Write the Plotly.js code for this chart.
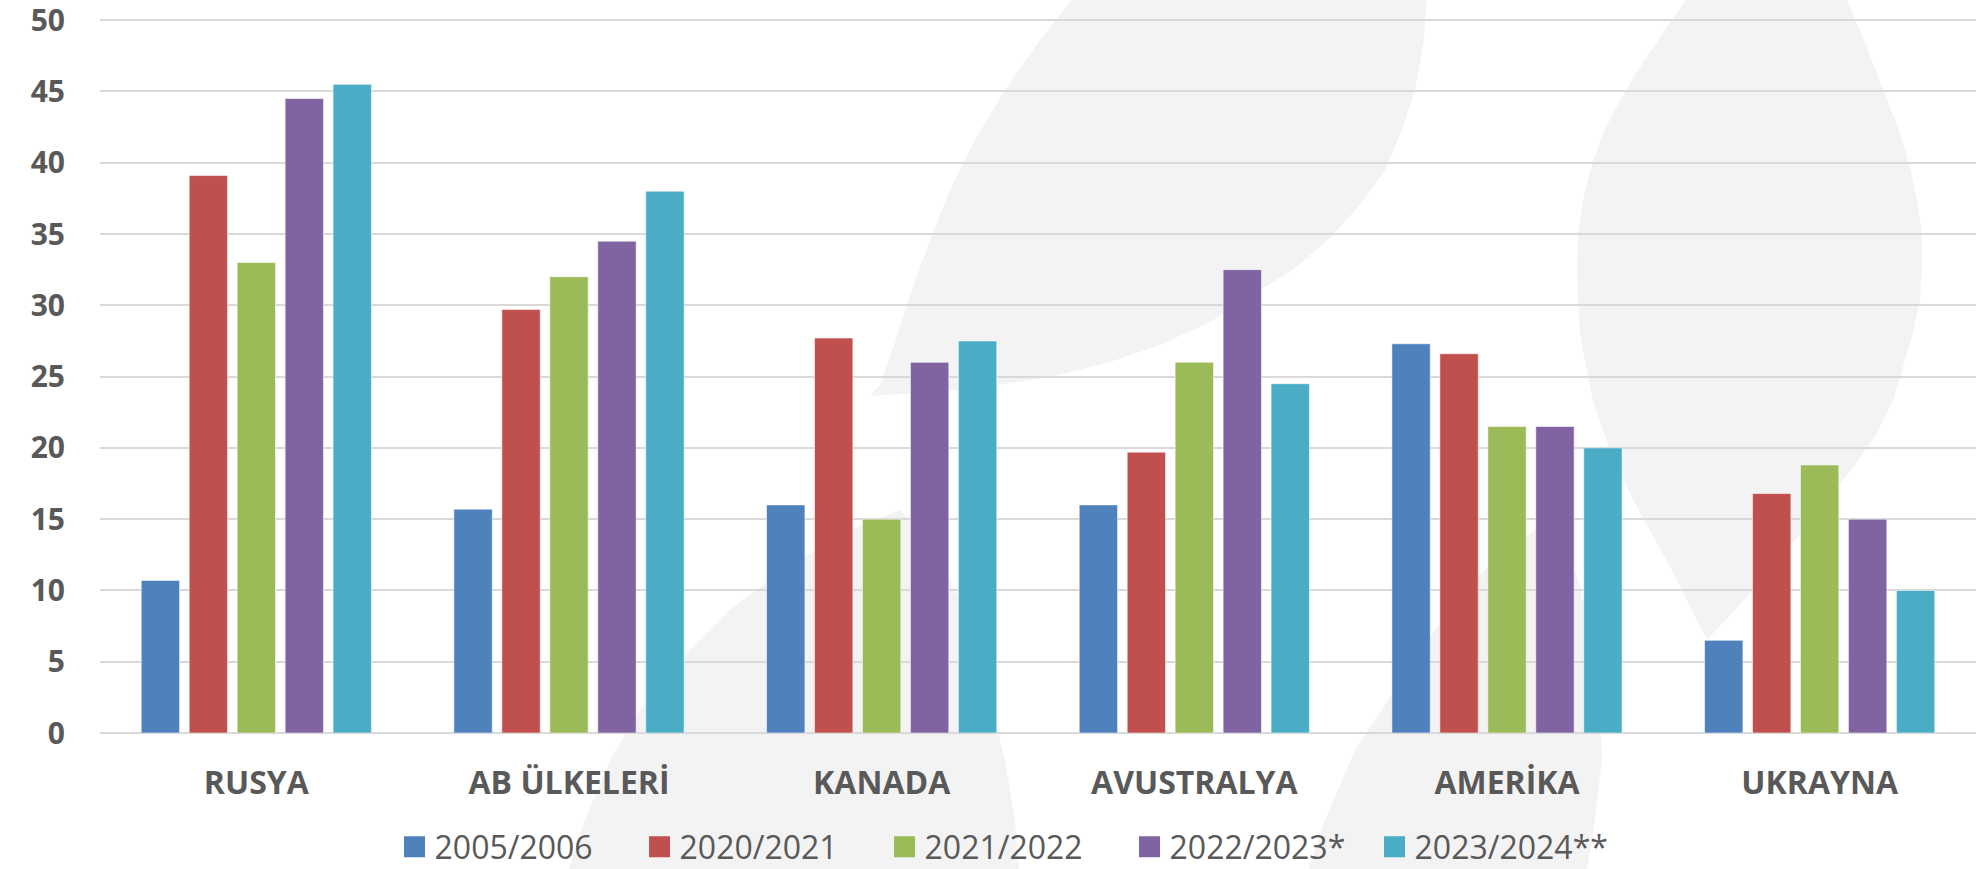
<!DOCTYPE html>
<html>
<head>
<meta charset="utf-8">
<script src="https://cdn.plot.ly/plotly-3.0.1.min.js"></script>
<style>
  html, body { margin: 0; padding: 0; background: #ffffff; }
  #chart { width: 1979px; height: 869px; }
</style>
</head>
<body>
<div id="chart"></div>
<script>
// ---- data ----
const categories = ['RUSYA', 'AB ÜLKELERİ', 'KANADA', 'AVUSTRALYA', 'AMERİKA', 'UKRAYNA'];
const seriesNames = ['2005/2006', '2020/2021', '2021/2022', '2022/2023*', '2023/2024**'];
const v2005_2006 = [10.7, 15.7, 16.0, 16.0, 27.3, 6.5];
const v2020_2021 = [39.1, 29.7, 27.7, 19.7, 26.6, 16.8];
const v2021_2022 = [33.0, 32.0, 15.0, 26.0, 21.5, 18.8];
const v2022_2023 = [44.5, 34.5, 26.0, 32.5, 21.5, 15.0];
const v2023_2024 = [45.5, 38.0, 27.5, 24.5, 20.0, 10.0];
const seriesValues = [v2005_2006, v2020_2021, v2021_2022, v2022_2023, v2023_2024];
const seriesColors = ['#4F81BD', '#C0504D', '#9BBB59', '#8064A2', '#4BACC6'];
const yTickValues = [0, 5, 10, 15, 20, 25, 30, 35, 40, 45, 50];

// ---- traces ----
const traces = seriesNames.map((name, i) => ({
  type: 'bar',
  name: name,
  x: categories,
  y: seriesValues[i],
  marker: { color: seriesColors[i], line: { color: 'rgba(255,255,255,0.55)', width: 1 } },
  hoverinfo: 'x+y+name'
}));

// ---- decorative watermark (background leaves) ----
const W = 1979, H = 869, ML = 100, MR = 3, MT = 18, MB = 136;
const PW = W - ML - MR, PH = H - MT - MB;
function toPaper(pts) {
  return pts.map(([px, py], k) => (k === 0 ? 'M' : 'L') +
    ((px - ML) / PW).toFixed(4) + ',' + ((H - MB - py) / PH).toFixed(4)).join(' ') + ' Z';
}
const leafA = [[1079,-10],[1040,40],[1005,90],[975,140],[950,190],[930,240],[912,290],[896,340],[880,385],[870,396],
  [960,390],[1050,377],[1110,362],[1160,345],[1210,322],[1250,297],[1295,268],[1330,238],[1360,205],[1385,170],[1402,130],[1415,90],[1424,40],[1427,-10]];
const leafB = [[565,880],[585,820],[610,760],[640,710],[680,660],[730,610],[790,565],[850,530],[900,510],
  [930,540],[960,600],[985,680],[1005,760],[1015,820],[1020,880]];
const leafC = [[1693,-10],[1665,30],[1640,67],[1620,100],[1603,133],[1591,167],[1583,200],[1578,235],[1577,267],[1578,300],[1580,333],[1586,367],[1593,400],[1610,450],[1633,500],[1670,567],[1707,640],
  [1735,610],[1760,583],[1795,540],[1827,500],[1855,465],[1877,433],[1893,400],[1903,367],[1913,333],[1920,300],[1922,267],[1922,233],[1917,200],[1910,167],[1900,133],[1887,100],[1868,50],[1843,-10]];
const leafD = [[1305,880],[1325,820],[1355,750],[1395,690],[1435,630],[1475,580],[1510,545],[1545,525],[1565,545],[1580,585],[1590,640],[1600,700],[1602,760],[1595,820],[1585,880]];
const leafShapes = [leafA, leafB, leafC, leafD].map(p => ({
  type: 'path', xref: 'paper', yref: 'paper', layer: 'below',
  path: toPaper(p), fillcolor: '#f3f3f3', line: { width: 0 }
}));

const layout = {
  width: W, height: H,
  margin: { l: ML, r: MR, t: MT, b: MB, pad: 0, autoexpand: false },
  paper_bgcolor: '#ffffff',
  plot_bgcolor: 'rgba(0,0,0,0)',
  barmode: 'group',
  bargap: 0.233,
  bargroupgap: 0.2,
  showlegend: true,
  font: { family: 'Open Sans, sans-serif', color: '#595959' },
  xaxis: {
    type: 'category',
    showgrid: false, zeroline: false, showline: false,
    ticks: '',
    tickfont: { family: 'Open Sans, sans-serif', size: 32, color: '#595959', weight: 'bold' },
    ticklabelstandoff: 28,
    fixedrange: true
  },
  yaxis: {
    range: [0, 50.15],
    tickvals: yTickValues,
    ticktext: yTickValues.map(String),
    showgrid: true, gridcolor: '#d9d9d9', gridwidth: 2,
    zeroline: true, zerolinecolor: '#d9d9d9', zerolinewidth: 2,
    showline: false, ticks: '',
    tickfont: { family: 'Open Sans, sans-serif', size: 30, color: '#595959', weight: 'bold' },
    ticklabelstandoff: 34,
    ticklabeloverflow: 'allow',
    fixedrange: true
  },
  legend: {
    orientation: 'h',
    x: 0.157, xanchor: 'left',
    y: -0.198, yanchor: 'bottom',
    font: { family: 'Open Sans, sans-serif', size: 32, color: '#595959' },
    entrywidth: 200, entrywidthmode: 'pixels',
    bgcolor: 'rgba(0,0,0,0)',
    traceorder: 'normal'
  },
  shapes: leafShapes
};

const gd = document.getElementById('chart');
function bigSymbols() {
  gd.querySelectorAll('.legend .legendpoints path').forEach(p => {
    p.setAttribute('d', 'M10.5,10.5H-10.5V-10.5H10.5Z');
    p.style.strokeWidth = '0px';
  });
}
Plotly.newPlot(gd, traces, layout, { displayModeBar: false, staticPlot: true }).then(() => {
  bigSymbols();
  gd.on && gd.on('plotly_afterplot', bigSymbols);
});
</script>
</body>
</html>
